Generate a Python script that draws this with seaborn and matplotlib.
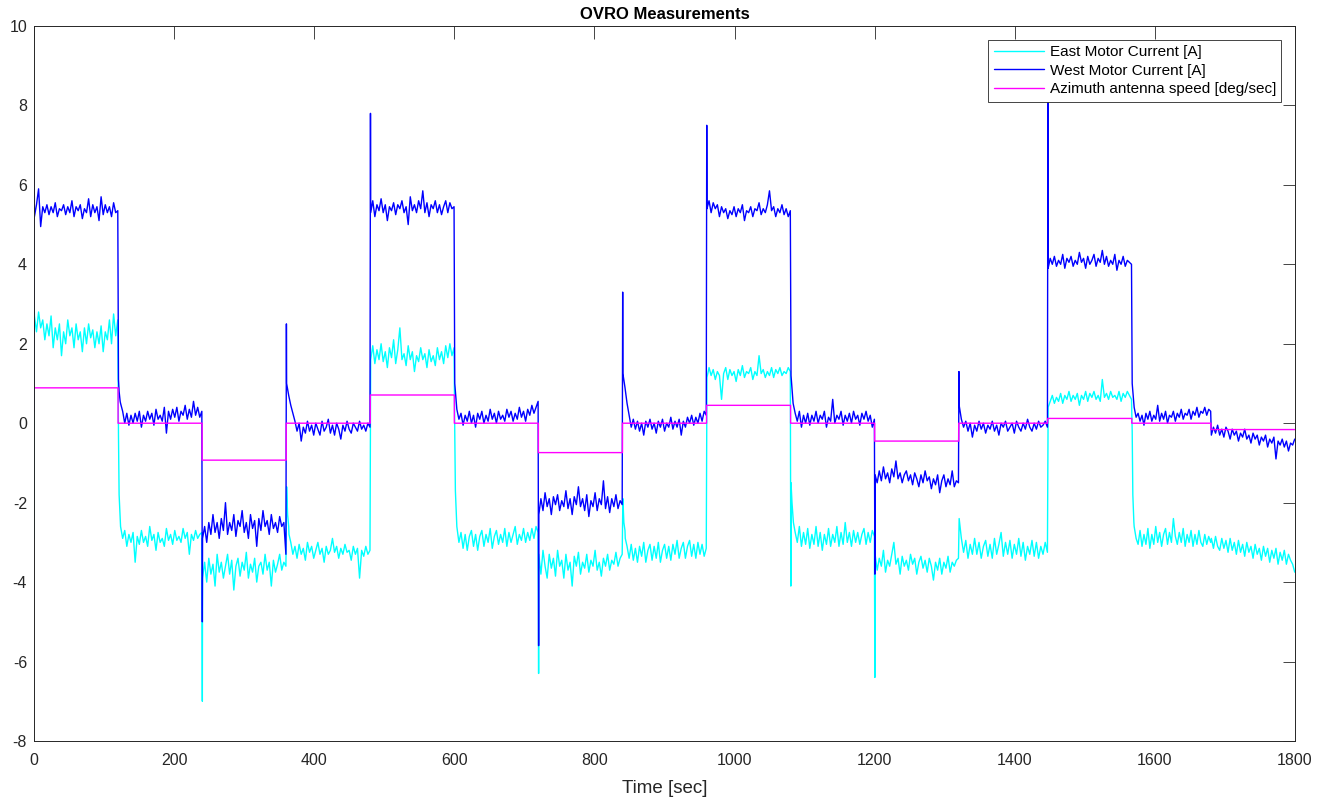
import numpy as np
import pandas as pd
import matplotlib
matplotlib.use("Agg")
import matplotlib.pyplot as plt
from matplotlib.lines import Line2D
import seaborn as sns

# ---------------- data ----------------
seg_bounds = [0, 120, 240, 360, 480, 600, 720, 840, 960, 1080, 1200, 1320, 1447, 1567, 1680, 1800]

azimuth_levels = [0.89, 0.0, -0.93, 0.0, 0.71, 0.0, -0.74, 0.0, 0.45, 0.0, -0.45, 0.0, 0.12, 0.0, -0.16]

west_segments = [
    [5.2, 5.5, 5.9, 4.95, 5.45, 5.3, 5.5, 5.25, 5.45, 5.3, 5.55, 5.2, 5.4, 5.35, 5.5, 5.25, 5.45, 5.3, 5.6, 5.2, 5.45, 5.35, 5.5, 5.15, 5.4, 5.3, 5.65, 5.2, 5.5, 5.3, 5.45, 5.1, 5.7, 5.25, 5.5, 5.3, 5.45, 5.2, 5.55, 5.3, 5.35],
    [1.1, 0.5, 0.3, 0.0, 0.25, -0.05, 0.2, 0.0, 0.25, 0.05, 0.3, -0.1, 0.2, 0.05, 0.3, 0.1, 0.25, -0.05, 0.35, 0.1, 0.2, 0.05, 0.4, -0.25, 0.3, 0.1, 0.35, 0.15, 0.4, 0.05, 0.3, 0.2, 0.45, 0.1, 0.35, 0.15, 0.55, 0.2, 0.4, 0.15, 0.3],
    [-2.9, -2.6, -3.0, -2.5, -2.8, -2.3, -2.75, -2.5, -2.9, -2.4, -2.7, -2.0, -2.8, -2.5, -2.7, -2.3, -2.85, -2.45, -2.6, -2.2, -2.75, -2.5, -2.9, -2.3, -2.65, -2.45, -3.1, -2.4, -2.7, -2.2, -2.6, -2.45, -2.8, -2.3, -2.65, -2.5, -2.75, -2.35, -2.6, -2.5, -3.3],
    [1.0, 0.7, 0.45, 0.25, 0.05, -0.2, 0.0, -0.45, -0.1, -0.25, 0.05, -0.2, -0.05, -0.3, 0.0, -0.15, -0.3, 0.05, -0.2, -0.1, 0.1, -0.25, -0.05, -0.3, 0.0, -0.15, -0.4, -0.05, -0.2, 0.05, -0.15, -0.25, 0.0, -0.1, -0.2, 0.05, -0.15, -0.05, -0.2, 0.0, -0.1],
    [5.3, 5.6, 5.2, 5.5, 5.35, 5.65, 5.3, 5.5, 5.1, 5.45, 5.35, 5.55, 5.25, 5.5, 5.4, 5.6, 5.3, 5.45, 5.0, 5.7, 5.35, 5.5, 5.3, 5.6, 5.4, 5.85, 5.3, 5.55, 5.2, 5.5, 5.4, 5.6, 5.3, 5.5, 5.25, 5.45, 5.6, 5.3, 5.55, 5.4, 5.45],
    [1.0, 0.35, 0.1, 0.25, -0.05, 0.2, 0.05, 0.3, 0.0, 0.2, -0.1, 0.25, 0.1, 0.3, 0.0, 0.2, 0.05, 0.35, 0.1, 0.25, 0.0, 0.3, 0.1, 0.2, 0.05, 0.35, 0.15, 0.3, 0.05, 0.25, 0.1, 0.4, 0.15, 0.3, 0.05, 0.35, 0.2, 0.45, 0.25, 0.4, 0.55],
    [-2.3, -1.9, -2.2, -1.75, -2.1, -1.9, -2.3, -1.85, -2.05, -1.8, -2.2, -1.95, -2.1, -1.7, -2.15, -1.9, -2.3, -1.85, -2.05, -1.6, -2.1, -1.9, -2.2, -1.8, -2.35, -1.95, -2.1, -1.75, -2.2, -1.9, -2.05, -1.45, -2.15, -1.85, -2.25, -1.9, -2.1, -1.8, -2.15, -1.95, -2.05],
    [1.25, 0.9, 0.5, 0.2, -0.1, 0.1, -0.15, 0.05, -0.2, 0.0, -0.3, 0.05, -0.1, 0.1, -0.15, 0.0, -0.25, 0.05, -0.1, 0.1, -0.2, 0.0, -0.1, 0.15, -0.15, 0.05, -0.1, 0.1, -0.3, 0.05, -0.1, 0.15, 0.0, 0.2, -0.05, 0.15, 0.0, 0.25, 0.05, 0.3, 0.2],
    [5.4, 5.6, 5.3, 5.55, 5.4, 5.5, 5.2, 5.45, 5.3, 5.4, 5.15, 5.35, 5.25, 5.45, 5.2, 5.4, 5.3, 5.5, 5.1, 5.35, 5.3, 5.45, 5.2, 5.4, 5.35, 5.55, 5.25, 5.4, 5.3, 5.5, 5.85, 5.35, 5.45, 5.2, 5.4, 5.3, 5.5, 5.25, 5.4, 5.2, 5.35],
    [1.2, 0.5, 0.25, 0.05, 0.3, -0.1, 0.2, 0.0, 0.25, -0.05, 0.2, 0.05, 0.3, 0.0, 0.2, 0.1, 0.3, -0.1, 0.15, 0.05, 0.6, 0.0, 0.2, 0.1, 0.3, -0.05, 0.2, 0.05, 0.25, 0.0, 0.3, 0.1, 0.2, -0.05, 0.25, 0.1, 0.3, 0.05, 0.2, -0.1, 0.1],
    [-1.3, -1.5, -1.2, -1.45, -1.1, -1.4, -1.25, -1.5, -1.15, -1.35, -0.95, -1.4, -1.25, -1.5, -1.3, -1.2, -1.45, -1.3, -1.55, -1.25, -1.4, -1.6, -1.3, -1.5, -1.2, -1.45, -1.35, -1.65, -1.4, -1.55, -1.3, -1.75, -1.45, -1.3, -1.6, -1.4, -1.55, -1.2, -1.6, -1.45, -1.5],
    [0.45, 0.1, -0.1, 0.05, -0.2, 0.0, -0.35, -0.05, -0.2, 0.05, -0.15, 0.0, -0.25, -0.05, -0.15, 0.05, -0.2, -0.05, -0.3, 0.0, -0.1, 0.05, -0.2, -0.1, 0.0, -0.25, 0.05, -0.1, -0.2, 0.0, -0.15, 0.1, -0.1, -0.2, 0.0, -0.15, 0.05, -0.1, -0.05, 0.05, -0.1],
    [3.9, 4.15, 4.0, 4.2, 3.95, 4.1, 4.0, 4.25, 3.9, 4.15, 4.05, 4.2, 3.95, 4.1, 4.0, 4.3, 4.05, 4.15, 3.9, 4.2, 4.0, 4.1, 4.25, 3.95, 4.15, 4.05, 4.35, 4.0, 4.2, 3.95, 4.1, 4.0, 4.25, 3.85, 4.1, 4.0, 4.2, 3.95, 4.1, 4.05, 4.0],
    [1.0, 0.4, 0.15, 0.25, 0.05, 0.2, -0.05, 0.25, 0.1, 0.3, 0.05, 0.2, 0.1, 0.45, 0.05, 0.25, 0.1, 0.3, 0.0, 0.2, 0.15, 0.3, 0.05, 0.25, 0.15, 0.35, 0.1, 0.25, 0.2, 0.35, 0.1, 0.3, 0.2, 0.4, 0.15, 0.3, 0.25, 0.4, 0.2, 0.35, 0.3],
    [-0.3, -0.1, -0.25, -0.05, -0.3, -0.15, -0.35, -0.1, -0.2, -0.4, -0.15, -0.3, -0.2, -0.45, -0.25, -0.35, -0.15, -0.4, -0.3, -0.5, -0.25, -0.4, -0.3, -0.55, -0.35, -0.45, -0.3, -0.6, -0.4, -0.5, -0.35, -0.9, -0.45, -0.55, -0.4, -0.6, -0.45, -0.7, -0.5, -0.55, -0.4],
]
west_extra_t = [0.0, 0.3, 121.5, 123.0, 240.3, 360.3, 480.3, 720.3, 840.3, 960.3, 1200.3, 1320.3, 1447.3]
west_extra_v = [0.3, 6.6, 0.8, 0.55, -5.0, 2.5, 7.8, -5.6, 3.3, 7.5, -3.8, 1.3, 8.2]

east_segments = [
    [2.7, 2.3, 2.8, 2.4, 2.6, 2.1, 2.5, 2.2, 2.7, 1.9, 2.4, 2.1, 2.5, 1.7, 2.3, 2.0, 2.6, 2.2, 2.4, 1.9, 2.5, 2.1, 2.3, 1.8, 2.4, 2.0, 2.5, 2.15, 2.35, 1.9, 2.3, 2.0, 2.45, 1.8, 2.3, 2.1, 2.6, 2.0, 2.75, 2.2, 2.6],
    [-0.3, -2.6, -2.9, -2.7, -3.1, -2.8, -3.0, -2.75, -3.5, -2.85, -3.05, -2.7, -3.0, -2.85, -3.1, -2.6, -2.95, -2.8, -3.2, -2.75, -3.0, -2.9, -3.1, -2.65, -2.95, -2.8, -3.05, -2.7, -2.95, -2.85, -3.0, -2.65, -2.9, -2.75, -3.3, -2.8, -2.95, -2.7, -2.9, -2.8, -2.75],
    [-3.9, -3.5, -4.0, -3.4, -3.8, -3.55, -4.1, -3.3, -3.75, -3.5, -3.9, -3.6, -3.3, -3.8, -3.45, -4.2, -3.6, -3.4, -3.85, -3.5, -3.7, -3.25, -3.9, -3.55, -3.75, -3.4, -4.0, -3.6, -3.5, -3.8, -3.3, -3.7, -3.5, -4.1, -3.45, -3.75, -3.55, -3.3, -3.7, -3.5, -3.6],
    [-1.6, -2.6, -3.0, -3.3, -3.1, -3.4, -3.05, -3.3, -3.15, -3.45, -3.0, -3.25, -3.1, -3.4, -3.2, -3.0, -3.3, -3.15, -3.5, -3.1, -3.3, -3.2, -2.9, -3.25, -3.1, -3.4, -3.15, -3.3, -3.05, -3.25, -3.2, -3.45, -3.1, -3.3, -3.15, -3.9, -3.2, -3.35, -3.1, -3.3, -3.2],
    [1.6, 1.95, 1.5, 1.85, 1.6, 2.0, 1.55, 1.8, 1.4, 1.9, 1.65, 2.1, 1.5, 1.85, 2.4, 1.6, 1.75, 1.45, 1.95, 1.6, 1.8, 1.3, 1.7, 1.55, 1.9, 1.6, 1.75, 1.4, 1.85, 1.55, 1.7, 1.45, 1.9, 1.6, 1.8, 1.5, 1.95, 1.65, 2.0, 1.7, 1.9],
    [-0.2, -2.6, -3.0, -2.75, -3.15, -2.8, -3.2, -2.85, -2.7, -3.1, -2.8, -3.2, -2.85, -2.7, -3.1, -2.8, -3.0, -2.65, -3.15, -2.85, -2.7, -3.05, -2.8, -3.0, -2.65, -3.1, -2.75, -3.0, -2.8, -2.6, -3.05, -2.8, -2.95, -2.65, -3.0, -2.75, -2.95, -2.65, -2.9, -2.6, -2.75],
    [-3.3, -3.8, -3.2, -3.6, -3.9, -3.3, -3.65, -3.4, -3.85, -3.2, -3.6, -3.45, -3.9, -3.3, -3.7, -3.5, -4.1, -3.35, -3.6, -3.25, -3.8, -3.5, -3.65, -3.3, -3.75, -3.45, -3.6, -3.2, -3.7, -3.5, -3.85, -3.4, -3.6, -3.3, -3.7, -3.45, -3.55, -3.25, -3.6, -3.4, -3.3],
    [-1.9, -2.7, -3.1, -3.4, -3.05, -3.45, -3.15, -3.5, -3.1, -3.35, -3.0, -3.5, -3.2, -3.05, -3.45, -3.1, -3.4, -3.0, -3.5, -3.2, -3.05, -3.4, -3.1, -3.45, -3.05, -3.3, -2.95, -3.4, -3.15, -3.0, -3.4, -3.1, -2.95, -3.35, -3.05, -3.4, -3.0, -3.3, -3.05, -3.35, -3.15],
    [1.15, 1.4, 1.2, 1.35, 1.1, 1.3, 1.2, 0.6, 1.25, 1.4, 1.1, 1.35, 1.2, 1.3, 1.05, 1.35, 1.2, 1.45, 1.15, 1.3, 1.25, 1.4, 1.1, 1.3, 1.2, 1.7, 1.25, 1.35, 1.15, 1.3, 1.2, 1.4, 1.15, 1.35, 1.25, 1.4, 1.2, 1.3, 1.25, 1.4, 1.3],
    [-1.5, -2.4, -2.75, -3.0, -2.6, -3.1, -2.75, -3.05, -2.65, -3.15, -2.8, -3.05, -2.6, -3.1, -2.75, -3.2, -2.8, -3.05, -2.65, -3.1, -2.8, -3.0, -2.6, -3.1, -2.75, -3.05, -2.5, -3.0, -2.75, -3.1, -2.7, -3.0, -2.75, -3.05, -2.8, -2.65, -3.05, -2.75, -3.0, -2.7, -2.85],
    [-3.3, -3.7, -3.4, -3.6, -3.2, -3.75, -3.45, -3.6, -3.3, -3.0, -3.55, -3.4, -3.8, -3.35, -3.6, -3.45, -3.7, -3.3, -3.55, -3.4, -3.8, -3.5, -3.35, -3.65, -3.45, -3.75, -3.4, -3.6, -3.95, -3.5, -3.7, -3.4, -3.8, -3.5, -3.65, -3.35, -3.75, -3.5, -3.6, -3.45, -3.4],
    [-2.4, -2.9, -3.25, -2.95, -3.4, -3.05, -3.3, -2.9, -3.3, -3.0, -3.4, -3.1, -2.95, -3.35, -3.05, -3.4, -2.9, -3.3, -3.05, -2.75, -3.35, -3.0, -3.3, -2.95, -3.4, -3.05, -3.3, -2.9, -3.35, -3.0, -3.45, -3.1, -3.3, -2.95, -3.35, -3.0, -3.4, -3.1, -3.3, -3.0, -3.25],
    [0.4, 0.55, 0.7, 0.5, 0.65, 0.55, 0.75, 0.5, 0.7, 0.6, 0.8, 0.55, 0.7, 0.6, 0.75, 0.45, 0.7, 0.6, 0.8, 0.55, 0.75, 0.65, 0.8, 0.6, 0.7, 0.55, 1.1, 0.65, 0.75, 0.6, 0.8, 0.65, 0.7, 0.6, 0.8, 0.55, 0.75, 0.65, 0.8, 0.7, 0.6],
    [-0.2, -2.6, -2.9, -3.05, -2.7, -3.1, -2.8, -3.05, -2.65, -3.15, -2.8, -3.05, -2.6, -3.0, -2.75, -3.1, -2.8, -2.65, -3.05, -2.75, -3.0, -2.4, -2.85, -3.05, -2.75, -3.0, -2.65, -3.1, -2.8, -3.0, -2.7, -3.1, -2.8, -3.05, -2.7, -3.0, -3.1, -2.8, -3.05, -2.85, -3.0],
    [-2.9, -3.15, -2.85, -3.1, -3.2, -2.9, -3.15, -2.95, -3.25, -2.9, -3.2, -3.0, -3.3, -2.95, -3.25, -3.05, -3.35, -3.0, -3.25, -3.1, -3.4, -3.05, -3.3, -3.15, -3.45, -3.1, -3.35, -3.15, -3.5, -3.2, -3.4, -3.15, -3.55, -3.25, -3.45, -3.2, -3.55, -3.3, -3.45, -3.55, -3.75],
]
east_extra_t = [0.0, 0.3, 121.5, 123.0, 240.3, 362.0, 364.0, 601.5, 603.0, 720.3, 842.0, 844.0,
                1080.3, 1082.0, 1084.0, 1200.3, 1568.5, 1570.0]
east_extra_v = [-2.9, 3.0, -1.8, -2.4, -7.0, -2.3, -2.8, -1.7, -2.4, -6.3, -2.5, -2.9,
                -4.1, -2.0, -2.5, -6.4, -1.8, -2.5]

series_names = ["East Motor Current [A]", "West Motor Current [A]", "Azimuth antenna speed [deg/sec]"]
series_colors = ["#00FFFF", "#0000FF", "#FF00FF"]
x_ticks = [0, 200, 400, 600, 800, 1000, 1200, 1400, 1600, 1800]
y_ticks = [-8, -6, -4, -2, 0, 2, 4, 6, 8, 10]


def build_series(segments, extra_t, extra_v):
    ts, vs = [], []
    for i, vals in enumerate(segments):
        start, end = seg_bounds[i], seg_bounds[i + 1]
        ts.extend(np.linspace(start + 0.6, end - 0.4, len(vals)))
        vs.extend(vals)
    ts.extend(extra_t)
    vs.extend(extra_v)
    order = np.argsort(ts, kind="stable")
    return np.asarray(ts)[order], np.asarray(vs)[order]


def build_steps(levels):
    ts, vs = [], []
    for i, lvl in enumerate(levels):
        ts.extend([seg_bounds[i] + 0.01, seg_bounds[i + 1]])
        vs.extend([lvl, lvl])
    return np.asarray(ts), np.asarray(vs)


frames = []
for name, (t, v) in zip(series_names, [build_series(east_segments, east_extra_t, east_extra_v),
                                       build_series(west_segments, west_extra_t, west_extra_v),
                                       build_steps(azimuth_levels)]):
    frames.append(pd.DataFrame({"t": t, "value": v, "series": name}))
df = pd.concat(frames, ignore_index=True)

# ---------------- plotting ----------------
sns.set_theme(style="white")
plt.rcParams["font.family"] = ["Liberation Sans", "DejaVu Sans"]

fig = plt.figure(figsize=(13.33, 7.99), dpi=100)
ax = fig.add_axes([0.0255, 0.0726, 0.946, 0.8949])

palette = dict(zip(series_names, series_colors))
sns.lineplot(data=df, x="t", y="value", hue="series", hue_order=series_names,
             palette=palette, estimator=None, sort=False, linewidth=1.0,
             legend=False, ax=ax)

ax.set_xlim(0, 1800)
ax.set_ylim(-8, 10)
ax.set_xticks(x_ticks)
ax.set_yticks(y_ticks)
ax.set_xticklabels([str(v) for v in x_ticks])
ax.set_yticklabels([str(v) for v in y_ticks])

axis_col = "#262626"
for sp in ax.spines.values():
    sp.set_visible(True)
    sp.set_color(axis_col)
    sp.set_linewidth(0.7)

ax.tick_params(axis="both", which="major", direction="in", length=9, width=0.6,
               color=axis_col, labelcolor=axis_col, labelsize=11.5,
               top=True, right=True)
ax.tick_params(axis="x", pad=9)
ax.tick_params(axis="y", pad=5)

ax.set_xlabel("Time [sec]", fontsize=13.5, color=axis_col, labelpad=8)
ax.set_ylabel("")
ax.set_title("OVRO Measurements", fontsize=12, fontweight="bold", color="black", pad=5)

handles = [Line2D([0], [0], color=c, lw=1.0) for c in series_colors]
leg = ax.legend(handles, series_names, loc="upper right", fontsize=11,
                frameon=True, fancybox=False, framealpha=1, edgecolor=axis_col,
                handlelength=3.3, handletextpad=0.35, labelspacing=0.3,
                borderpad=0.35, borderaxespad=0.9)
leg.get_frame().set_linewidth(0.6)
for txt in leg.get_texts():
    txt.set_color("black")

fig.savefig("out.png", dpi=100, facecolor="white")
